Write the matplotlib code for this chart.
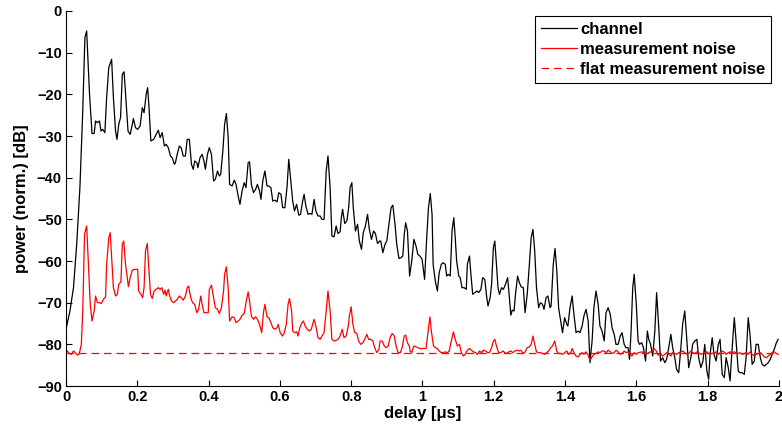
import matplotlib
matplotlib.use("Agg")
import matplotlib.pyplot as plt

plt.rcParams["font.family"] = ["Liberation Sans", "DejaVu Sans"]
plt.rcParams["font.weight"] = "bold"

# Channel power delay profile (delay in microseconds, power in dB, normalized)
channel_delay_us = [
    0.000, 0.011, 0.021, 0.030, 0.039, 0.047, 0.053, 0.058, 0.066, 0.073, 0.079, 0.083, 0.088, 0.094,
    0.098, 0.103, 0.109, 0.114, 0.120, 0.128, 0.133, 0.139, 0.143, 0.148, 0.153, 0.158, 0.163, 0.169,
    0.174, 0.180, 0.186, 0.189, 0.195, 0.201, 0.208, 0.214, 0.219, 0.225, 0.229, 0.233, 0.238, 0.246,
    0.253, 0.259, 0.264, 0.270, 0.276, 0.281, 0.287, 0.293, 0.298, 0.304,
    0.307, 0.312, 0.318, 0.323, 0.329, 0.335, 0.340, 0.346, 0.352, 0.357, 0.361, 0.367, 0.370, 0.376,
    0.382, 0.387, 0.391, 0.397, 0.402, 0.408, 0.414, 0.419, 0.425, 0.430, 0.434, 0.440, 0.445, 0.450,
    0.455, 0.459, 0.466, 0.472, 0.477, 0.483, 0.488, 0.494, 0.500, 0.505, 0.511, 0.515, 0.520, 0.526,
    0.532, 0.537, 0.543, 0.547, 0.552, 0.558, 0.564, 0.569, 0.575, 0.580, 0.586, 0.592, 0.597, 0.603,
    0.608, 0.614, 0.620, 0.625,
    0.636, 0.641, 0.647, 0.653, 0.658, 0.664, 0.668, 0.673, 0.679, 0.685, 0.690, 0.696, 0.701, 0.707,
    0.713, 0.718, 0.724, 0.730, 0.735, 0.741, 0.746, 0.752, 0.758, 0.763, 0.769, 0.773, 0.776, 0.782,
    0.788, 0.793, 0.797, 0.802, 0.806, 0.812, 0.818, 0.823, 0.829, 0.834, 0.840, 0.846, 0.851, 0.857,
    0.863, 0.868, 0.874, 0.880, 0.883, 0.889, 0.895, 0.900, 0.906, 0.912, 0.917, 0.923, 0.928, 0.934,
    0.940, 0.945, 0.949, 0.953, 0.958, 0.964,
    0.970, 0.976, 0.982, 0.987, 0.993, 0.999, 1.002, 1.006, 1.012, 1.017, 1.022, 1.027, 1.030, 1.036,
    1.042, 1.047, 1.053, 1.058, 1.064, 1.068, 1.072, 1.078, 1.083, 1.088, 1.092, 1.096, 1.102, 1.106,
    1.111, 1.117, 1.123, 1.126, 1.132, 1.136, 1.141, 1.147, 1.153, 1.158, 1.164, 1.169, 1.175, 1.180,
    1.184, 1.190, 1.194, 1.199, 1.203, 1.207, 1.212, 1.216, 1.222, 1.227, 1.233, 1.239, 1.242, 1.248,
    1.252, 1.257, 1.261, 1.267, 1.272,
    1.277, 1.283, 1.288, 1.294, 1.300, 1.305, 1.310, 1.315, 1.320, 1.326, 1.331, 1.337, 1.341, 1.347,
    1.352, 1.358, 1.361, 1.367, 1.372, 1.377, 1.382, 1.388, 1.393, 1.399, 1.405, 1.408, 1.414, 1.420,
    1.425, 1.431, 1.437, 1.442, 1.448, 1.453, 1.459, 1.465, 1.470, 1.476, 1.481, 1.487, 1.493, 1.498,
    1.504, 1.510, 1.515, 1.521, 1.527, 1.532, 1.538, 1.543, 1.549, 1.555, 1.560, 1.566, 1.571, 1.577,
    1.581, 1.585, 1.590, 1.594, 1.600, 1.605,
    1.609, 1.615, 1.620, 1.626, 1.631, 1.635, 1.640, 1.646, 1.652, 1.657, 1.663, 1.668, 1.674, 1.680,
    1.685, 1.691, 1.697, 1.702, 1.708, 1.713, 1.719, 1.725, 1.730, 1.736, 1.742, 1.747, 1.753, 1.758,
    1.764, 1.770, 1.775, 1.781, 1.787, 1.792, 1.798, 1.803, 1.807, 1.813, 1.818, 1.824, 1.830, 1.835,
    1.841, 1.847, 1.852, 1.858, 1.863, 1.869, 1.875, 1.880, 1.886, 1.891, 1.897, 1.903, 1.908, 1.914,
    1.919, 1.925, 1.931, 1.936, 1.942, 1.948, 1.953, 1.959, 1.965, 1.970, 1.976, 1.981, 1.987, 1.993,
    1.998,
]
channel_power_db = [
    -76.4, -72.0, -66.4, -56.0, -42.4, -24.0, -6.4, -4.8, -20.0, -29.4, -29.4, -26.4, -26.8, -26.4,
    -28.8, -28.4, -29.2, -20.8, -13.6, -11.6, -20.8, -28.8, -30.8, -27.2, -25.6, -15.2, -14.6, -22.4,
    -28.8, -29.6, -27.2, -25.8, -28.0, -28.4, -27.6, -23.2, -24.4, -20.0, -18.4, -23.2, -31.2, -30.8,
    -29.6, -28.6, -30.4, -29.2, -32.4, -32.0, -32.8, -34.8, -35.2, -36.8,
    -36.4, -34.4, -32.4, -32.8, -34.8, -34.8, -30.8, -30.8, -36.8, -38.0, -36.0, -36.4, -37.6, -35.2,
    -34.4, -36.0, -38.0, -34.4, -32.8, -34.4, -40.8, -40.4, -38.4, -39.6, -39.2, -33.6, -27.2, -24.6,
    -30.4, -41.6, -42.0, -40.6, -41.6, -44.4, -46.4, -43.2, -41.2, -42.4, -36.4, -36.2, -41.6, -43.6,
    -42.8, -41.6, -43.2, -45.2, -40.8, -38.4, -42.0, -42.0, -42.4, -45.6, -45.4, -45.8, -43.6, -44.0,
    -47.2, -47.2, -42.4, -35.6,
    -45.6, -48.0, -46.4, -49.0, -48.8, -45.6, -44.0, -46.8, -48.8, -48.6, -48.8, -45.2, -48.0, -49.2,
    -49.2, -50.0, -50.0, -38.4, -34.8, -42.4, -54.0, -54.2, -51.6, -53.4, -53.0, -49.2, -47.6, -51.0,
    -50.4, -47.2, -42.4, -41.2, -47.2, -52.8, -51.2, -55.2, -57.2, -53.2, -51.6, -48.8, -52.4, -54.8,
    -52.8, -53.4, -55.8, -55.2, -55.2, -58.0, -56.0, -55.2, -51.2, -47.2, -46.6, -51.2, -56.0, -59.4,
    -59.2, -58.8, -53.6, -50.8, -52.8, -63.6,
    -60.0, -54.8, -56.4, -58.4, -58.8, -59.6, -61.6, -64.4, -54.4, -47.2, -43.8, -48.8, -60.8, -64.8,
    -67.2, -62.8, -60.8, -60.4, -60.8, -63.6, -63.2, -63.6, -52.8, -49.6, -54.4, -60.0, -63.6, -64.0,
    -66.4, -66.4, -66.8, -60.8, -58.8, -63.2, -68.0, -67.6, -67.2, -67.6, -66.8, -64.0, -64.4, -68.4,
    -70.8, -68.8, -65.6, -56.8, -55.2, -60.0, -66.4, -68.0, -66.4, -66.8, -65.6, -64.0, -66.8, -73.0,
    -71.8, -72.0, -68.0, -63.6, -65.2,
    -66.2, -66.4, -72.4, -68.0, -60.8, -54.4, -52.4, -57.6, -66.4, -71.2, -70.0, -70.4, -71.6, -68.8,
    -68.4, -71.2, -70.8, -60.8, -57.0, -62.4, -71.2, -74.4, -77.2, -73.6, -75.2, -75.6, -71.2, -68.4,
    -72.8, -77.2, -76.8, -77.2, -75.6, -73.2, -71.6, -74.4, -84.4, -79.2, -71.2, -67.2, -70.4, -75.6,
    -76.8, -79.2, -72.4, -71.2, -72.8, -76.0, -77.6, -80.0, -80.0, -78.0, -77.2, -80.0, -80.8, -80.8,
    -83.6, -77.6, -66.4, -63.2, -70.4, -79.2,
    -80.0, -79.6, -80.8, -84.0, -76.8, -78.8, -80.0, -82.8, -76.8, -67.6, -76.0, -84.0, -83.2, -84.4,
    -83.6, -80.8, -77.6, -80.8, -83.2, -86.0, -86.8, -80.8, -75.2, -72.0, -79.2, -85.6, -83.2, -80.0,
    -79.2, -78.8, -83.2, -85.6, -84.0, -80.0, -86.4, -88.4, -82.4, -78.4, -82.4, -84.0, -80.0, -78.8,
    -87.2, -88.0, -83.2, -85.6, -88.8, -80.8, -73.6, -79.2, -86.4, -86.8, -86.8, -87.2, -83.2, -73.6,
    -77.6, -84.8, -84.0, -80.0, -80.0, -83.2, -84.8, -85.2, -84.8, -84.4, -83.6, -82.4, -81.2, -79.6,
    -78.8,
]

# Measurement noise profile
noise_delay_us = [
    0.000, 0.004, 0.009, 0.015, 0.021, 0.026, 0.032, 0.036, 0.039, 0.043, 0.047, 0.052, 0.058, 0.063,
    0.068, 0.073, 0.079, 0.083, 0.088, 0.094, 0.099, 0.105, 0.111, 0.114, 0.120, 0.124, 0.128, 0.133,
    0.139, 0.144, 0.148, 0.154, 0.158, 0.162, 0.167, 0.172, 0.175, 0.180, 0.186, 0.193, 0.201, 0.204,
    0.210, 0.215, 0.219, 0.223, 0.228, 0.233, 0.237, 0.242, 0.247, 0.253, 0.259, 0.264, 0.269, 0.274,
    0.278, 0.281, 0.287, 0.291, 0.296, 0.302,
    0.307, 0.312, 0.318, 0.323, 0.329, 0.335, 0.340, 0.344, 0.350, 0.355, 0.361, 0.367, 0.372, 0.378,
    0.382, 0.387, 0.393, 0.399, 0.402, 0.408, 0.414, 0.419, 0.425, 0.430, 0.436, 0.442, 0.445, 0.450,
    0.455, 0.459, 0.466, 0.472, 0.477, 0.483, 0.488, 0.494, 0.500, 0.505, 0.511, 0.515, 0.520, 0.526,
    0.532, 0.537, 0.543, 0.549, 0.554, 0.558, 0.564, 0.569, 0.575, 0.580, 0.586, 0.592, 0.595, 0.601,
    0.607, 0.612, 0.618, 0.623, 0.627, 0.633,
    0.636, 0.641, 0.647, 0.651, 0.656, 0.662, 0.666, 0.671, 0.677, 0.683, 0.688, 0.692, 0.696, 0.701,
    0.707, 0.713, 0.718, 0.724, 0.730, 0.735, 0.741, 0.746, 0.752, 0.758, 0.763, 0.769, 0.775, 0.780,
    0.786, 0.792, 0.795, 0.800, 0.805, 0.810, 0.816, 0.821, 0.827, 0.833, 0.838, 0.844, 0.849, 0.855,
    0.861, 0.866, 0.872, 0.878, 0.881, 0.887, 0.893, 0.898, 0.904, 0.909, 0.915, 0.921, 0.926, 0.932,
    0.938, 0.943, 0.949, 0.953, 0.958, 0.964,
    0.965, 0.970, 0.976, 0.982, 0.987, 0.993, 0.999, 1.004, 1.010, 1.016, 1.021, 1.025, 1.031, 1.036,
    1.042, 1.047, 1.053, 1.058, 1.064, 1.070, 1.075, 1.081, 1.087, 1.092, 1.098, 1.104, 1.109, 1.115,
    1.120, 1.126, 1.132, 1.137, 1.143, 1.149, 1.154, 1.160, 1.166, 1.171, 1.177, 1.183, 1.188, 1.194,
    1.199, 1.203, 1.209, 1.214, 1.220, 1.226, 1.231, 1.237, 1.242, 1.248, 1.254, 1.259, 1.265, 1.270,
    1.276,
    1.283, 1.288, 1.294, 1.300, 1.305, 1.310, 1.315, 1.320, 1.326, 1.331, 1.337, 1.343, 1.348, 1.354,
    1.360, 1.365, 1.371, 1.377, 1.382, 1.388, 1.393, 1.399, 1.405, 1.410, 1.416, 1.420, 1.425, 1.431,
    1.437, 1.442, 1.448, 1.453, 1.459, 1.465, 1.470, 1.476, 1.481, 1.487, 1.493, 1.498, 1.504, 1.510,
    1.515, 1.521, 1.527, 1.532, 1.538, 1.543, 1.549, 1.555, 1.560, 1.566, 1.571, 1.577, 1.583, 1.588,
    1.594, 1.600, 1.605,
    1.617, 1.626, 1.635, 1.645, 1.650, 1.656, 1.661, 1.668, 1.674, 1.680, 1.685, 1.691, 1.697, 1.702,
    1.708, 1.713, 1.719, 1.725, 1.730, 1.736, 1.742, 1.747, 1.753, 1.758, 1.764, 1.770, 1.775, 1.781,
    1.787, 1.792, 1.798, 1.803, 1.807, 1.813, 1.818, 1.824, 1.830, 1.835, 1.841, 1.847, 1.852, 1.858,
    1.863, 1.869, 1.875, 1.880, 1.886, 1.891, 1.897, 1.903, 1.908, 1.914, 1.919, 1.925, 1.931, 1.936,
    1.942, 1.948, 1.953, 1.959, 1.965, 1.970, 1.976, 1.981, 1.987, 1.993, 1.998,
]
noise_power_db = [
    -81.5, -81.6, -82.2, -82.4, -81.6, -82.0, -82.6, -82.4, -81.6, -80.0, -72.0, -53.6, -51.6, -60.8,
    -70.4, -74.4, -72.0, -68.4, -70.0, -70.0, -70.2, -69.2, -68.6, -60.8, -54.4, -53.2, -59.2, -66.4,
    -68.4, -68.0, -65.6, -65.0, -56.0, -55.2, -60.8, -64.0, -66.2, -64.0, -62.2, -62.0, -62.0, -67.2,
    -68.0, -68.8, -66.4, -57.6, -55.8, -62.4, -68.0, -69.0, -67.2, -66.8, -66.4, -66.8, -66.4, -68.0,
    -67.0, -68.4, -66.8, -68.4, -69.6, -70.0,
    -69.6, -69.2, -68.4, -68.8, -69.4, -68.4, -66.4, -66.0, -68.8, -70.0, -70.4, -72.4, -71.6, -68.4,
    -70.4, -72.4, -72.4, -72.4, -66.8, -65.8, -68.8, -71.2, -71.6, -72.6, -71.2, -67.2, -63.2, -61.4,
    -66.4, -74.4, -73.4, -73.6, -74.8, -74.4, -74.0, -73.0, -72.6, -70.0, -67.4, -69.6, -73.2, -74.0,
    -73.4, -74.0, -75.2, -77.2, -72.4, -70.4, -73.4, -73.6, -74.8, -76.0, -76.4, -76.0, -75.2, -77.2,
    -78.0, -77.4, -75.2, -70.4, -69.0, -72.0,
    -76.8, -77.2, -77.0, -78.0, -76.0, -74.8, -74.4, -75.6, -76.4, -76.8, -76.4, -75.2, -74.0, -75.6,
    -78.4, -78.8, -78.0, -77.2, -72.0, -67.2, -72.0, -78.8, -79.2, -79.0, -78.8, -78.0, -76.4, -78.4,
    -78.0, -75.6, -73.2, -71.0, -75.2, -77.2, -77.4, -79.2, -80.0, -79.6, -78.8, -77.6, -78.8, -78.8,
    -79.2, -80.8, -82.0, -81.2, -79.2, -79.2, -80.4, -80.8, -80.4, -78.4, -77.4, -78.0, -80.4, -82.0,
    -82.0, -80.8, -78.0, -77.8, -79.6, -80.6,
    -81.6, -82.0, -80.4, -80.6, -80.8, -81.0, -81.0, -81.0, -81.0, -76.8, -73.4, -76.8, -80.4, -80.8,
    -81.0, -81.6, -82.0, -82.0, -81.8, -82.0, -81.6, -79.2, -77.0, -78.8, -80.4, -80.0, -82.0, -82.8,
    -82.4, -81.4, -81.0, -81.4, -81.8, -82.0, -82.4, -81.6, -82.0, -81.4, -81.6, -82.0, -82.0, -80.8,
    -79.2, -78.8, -80.8, -82.0, -82.0, -81.6, -82.0, -82.2, -81.8, -81.6, -82.0, -81.6, -81.4, -81.6,
    -81.4,
    -82.2, -81.8, -80.8, -80.6, -80.0, -78.0, -80.0, -81.8, -82.0, -82.0, -82.2, -82.4, -82.0, -81.6,
    -80.8, -80.4, -79.2, -81.6, -82.2, -82.2, -82.4, -82.0, -81.6, -82.4, -82.0, -81.0, -82.0, -82.8,
    -83.0, -82.4, -82.0, -82.4, -81.8, -82.6, -83.8, -83.0, -82.4, -82.2, -81.8, -82.0, -81.6, -81.6,
    -82.0, -81.4, -81.8, -82.2, -82.0, -81.4, -81.8, -82.4, -82.2, -81.6, -82.0, -81.8, -82.4, -82.8,
    -82.0, -82.4, -82.0,
    -81.8, -82.4, -82.0, -81.6, -81.0, -81.6, -82.6, -82.2, -82.8, -82.4, -82.0, -82.4, -82.8, -82.0,
    -82.2, -82.4, -82.0, -81.8, -81.6, -82.0, -82.4, -82.2, -81.6, -82.0, -82.2, -81.8, -82.0, -82.4,
    -82.2, -81.9, -81.8, -82.2, -82.4, -82.1, -82.2, -81.8, -82.4, -82.0, -81.6, -81.9, -82.4, -82.0,
    -81.8, -82.1, -81.8, -82.0, -82.2, -82.0, -82.4, -82.2, -82.0, -82.4, -81.8, -82.4, -82.8, -82.4,
    -82.2, -82.0, -82.4, -83.0, -83.2, -82.8, -82.4, -82.0, -81.8, -82.2, -82.4,
]

# Flat (delay-independent) measurement noise level
flat_noise_db = -82.0
delay_range_us = [0.0, 2.0]

x_ticks = [0, 0.2, 0.4, 0.6, 0.8, 1.0, 1.2, 1.4, 1.6, 1.8, 2.0]
x_tick_labels = ["0", "0.2", "0.4", "0.6", "0.8", "1", "1.2", "1.4", "1.6", "1.8", "2"]
y_ticks = [-90, -80, -70, -60, -50, -40, -30, -20, -10, 0]

fig = plt.figure(figsize=(7.82, 4.33), dpi=100)
ax = fig.add_axes([0.0844, 0.1085, 0.9116, 0.8661])

ax.plot(channel_delay_us, channel_power_db, color="black", lw=0.9, label="channel")
ax.plot(noise_delay_us, noise_power_db, color="#ff0000", lw=0.9, label="measurement noise")
ax.plot(delay_range_us, [flat_noise_db, flat_noise_db], color="#ff0000", lw=0.9,
        ls=(0, (6, 4)), label="flat measurement noise")

ax.set_xlim(0, 2)
ax.set_ylim(-90, 0)
ax.set_xticks(x_ticks)
ax.set_xticklabels(x_tick_labels)
ax.set_yticks(y_ticks)
ax.tick_params(direction="in", length=4, width=0.8, labelsize=10.5, pad=3)
for lab in ax.get_xticklabels() + ax.get_yticklabels():
    lab.set_fontweight("bold")

ax.spines["top"].set_visible(False)
ax.spines["right"].set_visible(False)
for s in ("left", "bottom"):
    ax.spines[s].set_linewidth(0.8)

ax.set_xlabel("delay [μs]", fontsize=12, fontweight="bold", labelpad=1)
ax.set_ylabel("power (norm.) [dB]", fontsize=12, fontweight="bold", labelpad=6)

leg = ax.legend(loc="upper right", bbox_to_anchor=(0.989, 0.986),
                prop={"weight": "bold", "size": 12}, frameon=True, fancybox=False,
                edgecolor="black", framealpha=1, handlelength=2.15, handletextpad=0.2,
                labelspacing=0.3, borderpad=0.35, borderaxespad=0)
leg.get_frame().set_linewidth(0.8)

fig.savefig("out.png", dpi=100)
